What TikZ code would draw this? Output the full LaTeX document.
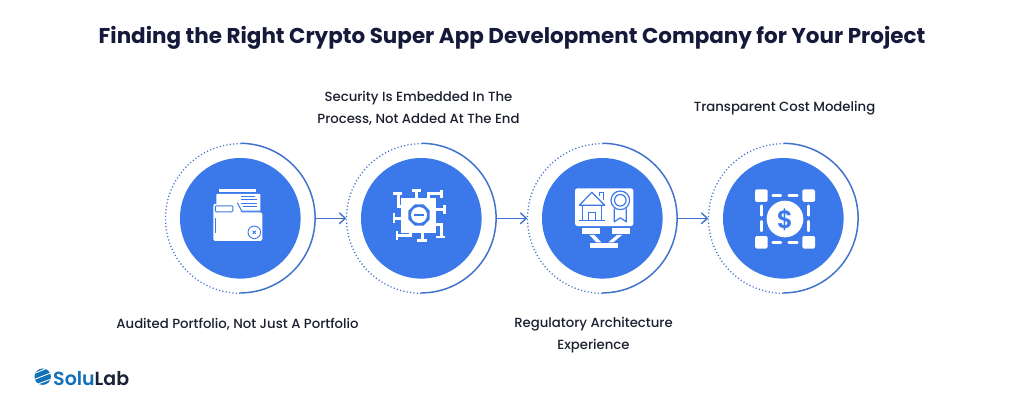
\documentclass[tikz,border=0pt]{standalone}
\usepackage{fontspec}
\setmainfont{Poppins}
\newfontfamily\titlefont{Poppins}[UprightFont=* Bold]
\newfontfamily\labelfont{Poppins}[UprightFont=* Medium]
\newfontfamily\logofont{Poppins}[UprightFont=* SemiBold]
\usetikzlibrary{arrows.meta}
\definecolor{disc}{HTML}{3B78EA}
\definecolor{ring}{HTML}{4273CC}
\definecolor{ink}{HTML}{15193A}
\definecolor{labelink}{HTML}{1C2030}
\definecolor{logoblue}{HTML}{1170B8}
\definecolor{logodark}{HTML}{1A2238}
\tikzset{
  x=1pt,y=-1pt,
  discnode/.style={circle,fill=disc,inner sep=0pt,minimum size=120.6pt},
  ringnode/.style={circle,inner sep=0pt,minimum size=149.6pt},
  solidarc/.style={draw=ring,line width=1.5pt},
  dotarc/.style={draw=ring,line width=1.3pt,dash pattern=on 1.1pt off 2.3pt},
  flow/.style={draw=ring,line width=1.4pt,-{Straight Barb[length=6pt,width=11pt,line width=1.4pt]}},
  labeltext/.style={font=\labelfont\fontsize{13.25}{22}\selectfont,text=labelink,align=center,inner sep=0pt},
  iconw/.style={fill=white,draw=none},
  iconl/.style={draw=white,line width=2.4pt,fill=none},
}
\begin{document}
\begin{tikzpicture}
\useasboundingbox (0,0) rectangle (1024,407);
\fill[white] (0,0) rectangle (1024,407);
\node[font=\titlefont\fontsize{21.45}{26}\selectfont,text=ink,inner sep=0pt] (title) at (512,38) {Finding the Right Crypto Super App Development Company for Your Project};
% discs and rings
\node[discnode] (d1) at (240.3,218.3) {};
\node[discnode] (d2) at (421.3,218.3) {};
\node[discnode] (d3) at (602.3,218.3) {};
\node[discnode] (d4) at (783.3,218.3) {};
\node[ringnode] (r1) at (240.3,218.3) {};
\node[ringnode] (r2) at (421.3,218.3) {};
\node[ringnode] (r3) at (602.3,218.3) {};
\node[ringnode] (r4) at (783.3,218.3) {};
\foreach \n in {r1,r2,r3,r4}{
  \draw[solidarc] (\n.north) arc[start angle=90,end angle=-90,radius=74.8pt];
  \draw[dotarc] (\n.south) arc[start angle=270,end angle=90,radius=74.8pt];
}
\draw[flow] (r1.east) -- (r2.west);
\draw[flow] (r2.east) -- (r3.west);
\draw[flow] (r3.east) -- (r4.west);
% icon 1: folder
\begin{scope}[shift={(d1.center)}]
  \fill[iconw] (-21,-29) rectangle (16,-26);
  \fill[iconw,rounded corners=1pt] (-24,-24.5) rectangle (20,-7);
  \draw[disc,line width=0.8pt] (1,-22)--(15,-22) (1,-18.5)--(17,-18.5) (1,-15)--(17,-15) (3,-11.5)--(17,-11.5);
  \draw[disc,line width=1pt] (-3,-15.5)--(1.5,-7.2)--(22,-7.2);
  \fill[iconw,rounded corners=1.5pt] (-27,-14.5)--(-5,-14.5)--(0,-6)--(22,-6)--(22,22.5)--(-27,22.5)--cycle;
  \draw[disc,line width=0.9pt,rounded corners=1pt] (-25,-12.5) rectangle (-7.5,-6.5);
  \draw[disc,line width=0.7pt] (-25,0)--(-25,15);
  \draw[disc,line width=0.9pt] (14,14) circle[radius=6.3];
  \draw[disc,line width=1pt] (12.5,12.5)--(15.5,15.5) (12.5,15.5)--(15.5,12.5);
\end{scope}
% icon 2: virus
\begin{scope}[shift={(d2.center)}]
  \fill[iconw] (-20,-20) rectangle (15,15);
  \draw[iconl] (-5,-20)--(-5,-28) (-9.5,-28)--(-0.5,-28);
  \draw[iconl] (7,-20)--(7,-25)--(20,-25) (20,-28.5)--(20,-20);
  \draw[iconl] (15,-9)--(23,-9) (23,-13.5)--(23,-4.5);
  \draw[iconl] (15,6)--(20,6)--(20,18.5) (15,18.5)--(24,18.5);
  \draw[iconl] (1,15)--(1,22) (-4,22)--(6,22);
  \draw[iconl] (-11,15)--(-11,17)--(-24,17) (-24.5,13)--(-24.5,22);
  \draw[iconl] (-20,0)--(-28,0) (-27.5,-5)--(-27.5,4.5);
  \draw[iconl] (-20,-12)--(-23,-12)--(-23,-25) (-28,-25)--(-19,-25);
  \fill[disc] (8.3,-7.7)--(2.1,-13.9)--(-6.7,-13.9)--(-12.9,-7.7)--(-12.9,1.1)--(-6.7,7.3)--(2.1,7.3)--(8.3,1.1)--cycle;
  \fill[iconw] (-2.3,-3.3) circle[radius=8];
  \draw[disc,line width=2.2pt] (-7,-3.3)--(2.4,-3.3);
\end{scope}
% icon 3: board
\begin{scope}[shift={(d3.center)}]
  \fill[iconw,rounded corners=2.5pt] (-27.3,-30) rectangle (31,7.7);
  \draw[disc,line width=1.2pt,line join=round] (-23,-13)--(-10.5,-26)--(2.5,-13)--cycle;
  \draw[disc,line width=1.2pt] (-20,-13)--(-20,2.5) (-0.5,-13)--(-0.5,2.5) (-23,2.5)--(2.5,2.5);
  \draw[disc,line width=1.2pt] (-14,2.5)--(-14,-6)--(-7,-6)--(-7,2.5);
  \draw[disc,line width=1.2pt] (-3,-22)--(-3,-26)--(1,-26)--(1,-18);
  \draw[disc,line width=1.2pt] (18,-18) circle[radius=9.3];
  \draw[disc,line width=1.2pt] (18,-18) circle[radius=5.8];
  \draw[disc,line width=1.2pt,line join=round] (12,-10)--(12,3.5)--(18,-0.5)--(24,3.5)--(24,-10);
  \fill[iconw] (-20.5,9.5) rectangle (-2,15.3);
  \fill[iconw] (9.3,9.5) rectangle (27.7,15.3);
  \fill[iconw] (-13,16.5)--(-8,16.5)--(-1,24)--(-6,24)--cycle;
  \fill[iconw] (15,16.5)--(20,16.5)--(11,24)--(6,24)--cycle;
  \fill[iconw] (-12.3,24.5) rectangle (15.3,29.8);
\end{scope}
% icon 4: cost
\begin{scope}[shift={(d4.center)}]
  \foreach \x/\y in {-28.3/-29,19/-29,-28.3/17.7,19/17.7}{
    \fill[iconw,rounded corners=1.5pt] (\x,\y) rectangle ++(12.7,12.5);
  }
  \draw[white,line width=2.8pt,line cap=round]
    (-10.5,-22.7)--(-2.5,-22.7) (5.5,-22.7)--(14,-22.7)
    (-10.5,24)--(-2.5,24) (5.5,24)--(14,24)
    (-22,-12.5)--(-22,-3) (-22,3)--(-22,12.5)
    (25.2,-12.5)--(25.2,-3) (25.2,3)--(25.2,12.5);
  \fill[iconw] (1.7,0.7) circle[radius=18.3];
  \node[font=\logofont\fontsize{25}{25}\selectfont,text=disc,inner sep=0pt] (dollar) at (1.7,1.7) {\$};
\end{scope}
% labels
\node[labeltext] (l1) at (237.5,324) {Audited Portfolio, Not Just A Portfolio};
\node[labeltext] (l2) at (418.5,108) {Security Is Embedded In The\\Process, Not Added At The End};
\node[labeltext] (l3) at (593.5,335.5) {Regulatory Architecture\\Experience};
\node[labeltext] (l4) at (784.5,108) {Transparent Cost Modeling};
% logo
\fill[logoblue] (42.7,376.7) circle[radius=8.2];
\begin{scope}
  \clip (42.7,376.7) circle[radius=8.2];
  \draw[white,line width=0.9pt] (33,374)--(50,367) (33,380)--(53,372) (35,385)--(54,378);
\end{scope}
\node[font=\logofont\fontsize{19}{20}\selectfont,anchor=west,inner sep=0pt] (logo) at (53,378.5) {\textcolor{logoblue}{Solu}\textcolor{logodark}{Lab}};
\end{tikzpicture}
\end{document}
